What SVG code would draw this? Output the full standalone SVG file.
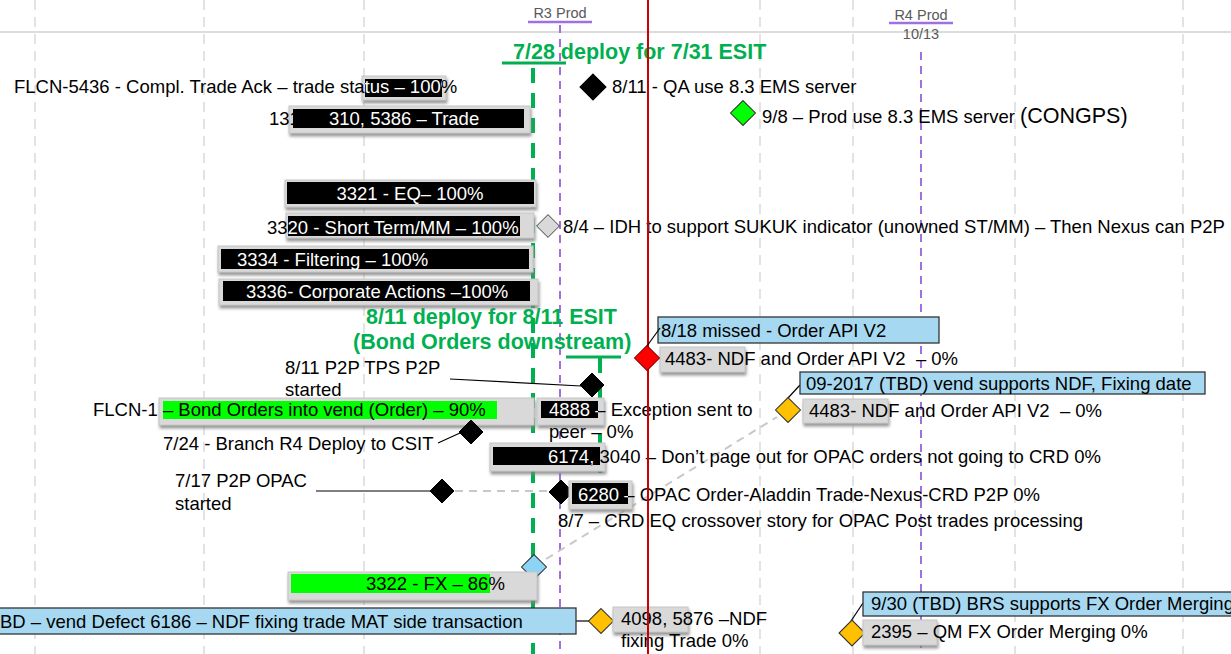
<svg xmlns="http://www.w3.org/2000/svg" width="1231" height="654" viewBox="0 0 1231 654">
<defs>
<style>
.t{font-family:"Liberation Sans",Arial,sans-serif;font-size:18.5px;fill:#000}
.w{fill:#fff}
.hd{font-family:"Liberation Sans",Arial,sans-serif;font-size:14.5px;fill:#595959}
.dep{font-family:"Liberation Sans",Arial,sans-serif;font-size:21.5px;font-weight:bold;fill:#00b050}
.grid{stroke:#e3e3e3;stroke-width:2;stroke-dasharray:10 7;fill:none}
.pur{stroke:#a070e0;stroke-width:2;stroke-dasharray:8 6;fill:none}
.pus{stroke:#a070e0;stroke-width:2.5;fill:none}
.grl{stroke:#00b050;stroke-width:4;stroke-dasharray:15 10;fill:none}
.grs{stroke:#00b050;stroke-width:3;fill:none}
.face{fill:#d9d9d9;stroke:#c6c6c6;stroke-width:1;filter:url(#sh)}
.blk{fill:#000}
.gr{fill:#00ff00}
.call{fill:#a6d9f1;stroke:#333;stroke-width:1.3}
.lead{stroke:#000;stroke-width:1.2;fill:none}
.gd{stroke:#c8c8c8;stroke-width:2;stroke-dasharray:8 6;fill:none}
.dk{fill:#000;stroke:#000;stroke-width:1}
.dor{fill:#ffc000;stroke:#333;stroke-width:1}
.dgy{fill:#d9d9d9;stroke:#333;stroke-width:1}
.dgn{fill:#00ff00;stroke:#333;stroke-width:1}
.dbl{fill:#8dd3f5;stroke:#333;stroke-width:1}
.drd{fill:#ff0000;stroke:#8b0000;stroke-width:1}
</style>
<filter id="sh" x="-10%" y="-30%" width="120%" height="180%">
<feDropShadow dx="1" dy="3" stdDeviation="1.5" flood-color="#7f7f7f" flood-opacity="0.8"/>
</filter>
<polygon id="dm" points="0,-12 12,0 0,12 -12,0"/>
<clipPath id="c1"><rect x="365" y="79" width="77" height="18"/></clipPath>
<clipPath id="c4"><rect x="288" y="216" width="232" height="20"/></clipPath>
<clipPath id="c4888"><rect x="541" y="401" width="57" height="17"/></clipPath>
<clipPath id="c6174"><rect x="493" y="447" width="107" height="18"/></clipPath>
<clipPath id="c6280"><rect x="572" y="483" width="56" height="21"/></clipPath>
</defs>
<rect x="0" y="0" width="1231" height="654" fill="#fff"/>

<g id="grid">
<line class="grid" x1="35" y1="0" x2="35" y2="654"/>
<line class="grid" x1="204" y1="0" x2="204" y2="654"/>
<line class="grid" x1="364" y1="0" x2="364" y2="654"/>
<line class="grid" x1="760" y1="0" x2="760" y2="654"/>
<line class="grid" x1="853" y1="0" x2="853" y2="654"/>
<line class="grid" x1="1015" y1="0" x2="1015" y2="654"/>
<line class="grid" x1="1183" y1="0" x2="1183" y2="654"/>
<line x1="0" y1="32" x2="1231" y2="32" stroke="#dcdcdc" stroke-width="2"/>
</g>

<g id="milestones">
<text class="hd" x="560" y="18" text-anchor="middle">R3 Prod</text>
<line class="pus" x1="528" y1="22" x2="592" y2="22"/>
<line class="pur" x1="560" y1="25" x2="560" y2="654"/>
<text class="hd" x="921" y="20" text-anchor="middle">R4 Prod</text>
<line class="pus" x1="889" y1="23" x2="953" y2="23"/>
<text class="hd" x="921" y="39" text-anchor="middle">10/13</text>
<line class="pur" x1="921" y1="52" x2="921" y2="654"/>
<line class="grl" x1="533" y1="68" x2="533" y2="654"/>
<line class="grs" x1="502" y1="63" x2="566" y2="63"/>
<text class="dep" x="513" y="59">7/28 deploy for 7/31 ESIT</text>
<line class="grl" x1="600" y1="358" x2="600" y2="482"/>
<line class="grs" x1="566" y1="357" x2="621" y2="357"/>
<text class="dep" x="366" y="324">8/11 deploy for 8/11 ESIT</text>
<text class="dep" x="353" y="349">(Bond Orders downstream)</text>
</g>

<g id="connectors">
<line class="lead" x1="450" y1="379" x2="581" y2="386"/>
<line class="lead" x1="438" y1="443" x2="460" y2="433"/>
<line class="lead" x1="316" y1="491" x2="431" y2="491"/>
<line class="gd" x1="455" y1="491" x2="549" y2="491"/>
<line class="gd" x1="546" y1="559" x2="777" y2="417"/>
<line class="lead" x1="800" y1="385" x2="788" y2="398"/>
<line class="lead" x1="576" y1="621" x2="589" y2="621"/>
<line class="lead" x1="863" y1="603" x2="851" y2="621"/>
</g>

<g id="n-flcn5436">
<rect class="face" x="362" y="76" width="84" height="24"/>
<rect class="blk" x="365" y="79" width="77" height="18"/>
<text class="t" x="14" y="93">FLCN-5436 - Compl. Trade Ack – trade status – 100%</text>
<text class="t w" x="14" y="93" clip-path="url(#c1)">FLCN-5436 - Compl. Trade Ack – trade status – 100%</text>
</g>

<g id="n-1310">
<rect class="face" x="289" y="106" width="241" height="27"/>
<rect class="blk" x="293" y="109" width="231" height="19"/>
<text class="t" x="269" y="125">131</text>
<text class="t w" x="329" y="125">310, 5386 – Trade</text>
</g>

<g id="n-qa">
<use href="#dm" class="dk" transform="translate(593,87) scale(1.08)"/>
<text class="t" x="612" y="93">8/11 - QA use 8.3 EMS server</text>
</g>

<g id="n-prod">
<use href="#dm" class="dgn" transform="translate(743,113) scale(1.04)"/>
<text class="t" x="762" y="123">9/8 – Prod use 8.3 EMS server <tspan font-size="21.5">(CONGPS)</tspan></text>
</g>

<g id="n-3321">
<rect class="face" x="285" y="180" width="251" height="27"/>
<rect class="blk" x="287" y="182" width="247" height="22"/>
<text class="t w" x="410" y="200" text-anchor="middle">3321 - EQ– 100%</text>
</g>

<g id="n-3320">
<rect class="face" x="286" y="213" width="248" height="25"/>
<rect class="blk" x="288" y="216" width="232" height="20"/>
<text class="t" x="267" y="234">3320 - Short Term/MM – 100%</text>
<text class="t w" x="267" y="234" clip-path="url(#c4)">3320 - Short Term/MM – 100%</text>
</g>

<g id="n-idh">
<use href="#dm" class="dgy" transform="translate(548,226) scale(0.95)"/>
<text class="t" x="563" y="233">8/4 – IDH to support SUKUK indicator (unowned ST/MM) – Then Nexus can P2P</text>
</g>

<g id="n-3334">
<rect class="face" x="218" y="246" width="315" height="26"/>
<rect class="blk" x="221" y="249" width="308" height="20"/>
<text class="t w" x="237" y="266">3334 - Filtering – 100%</text>
</g>

<g id="n-3336">
<rect class="face" x="219" y="279" width="319" height="26"/>
<rect class="blk" x="223" y="281" width="307" height="20"/>
<text class="t w" x="246" y="298">3336- Corporate Actions –100%</text>
</g>

<g id="n-4483a">
<rect class="face" x="660" y="347" width="85" height="25"/>
<text class="t" x="665" y="365">4483- NDF and Order API V2 &#160;– 0%</text>
</g>

<g id="n-tps">
<use href="#dm" class="dk" transform="translate(592,385)"/>
<text class="t" x="285" y="374">8/11 P2P TPS P2P</text>
<text class="t" x="285" y="396">started</text>
</g>

<g id="n-flcn1">
<rect class="face" x="159" y="398" width="375" height="27"/>
<rect class="gr" x="163" y="401" width="334" height="18"/>
<text class="t" x="93" y="416">FLCN-1 – Bond Orders into vend (Order) – 90%</text>
</g>

<g id="n-4888">
<rect class="face" x="537" y="398" width="67" height="27"/>
<rect class="blk" x="541" y="401" width="57" height="17"/>
<text class="t" x="549" y="416">4888 – Exception sent to</text>
<text class="t w" x="549" y="416" clip-path="url(#c4888)">4888 – Exception sent to</text>
<text class="t" x="549" y="438">peer – 0%</text>
</g>

<g id="n-branch">
<use href="#dm" class="dk" transform="translate(471,432)"/>
<text class="t" x="163" y="450">7/24 - Branch R4 Deploy to CSIT</text>
</g>

<g id="n-6174">
<rect class="face" x="490" y="443" width="115" height="28"/>
<rect class="blk" x="493" y="447" width="107" height="18"/>
<text class="t" x="548" y="463">6174, 3040 – Don’t page out for OPAC orders not going to CRD 0%</text>
<text class="t w" x="548" y="463" clip-path="url(#c6174)">6174, 3040 – Don’t page out for OPAC orders not going to CRD 0%</text>
</g>

<g id="n-opac">
<use href="#dm" class="dk" transform="translate(442,491)"/>
<text class="t" x="175" y="487">7/17 P2P OPAC</text>
<text class="t" x="175" y="510">started</text>
</g>

<g id="n-6280">
<use href="#dm" class="dk" transform="translate(561,492)"/>
<rect class="face" x="569" y="481" width="63" height="28"/>
<rect class="blk" x="572" y="483" width="56" height="21"/>
<text class="t" x="578" y="501">6280 – OPAC Order-Aladdin Trade-Nexus-CRD P2P 0%</text>
<text class="t w" x="578" y="501" clip-path="url(#c6280)">6280 – OPAC Order-Aladdin Trade-Nexus-CRD P2P 0%</text>
<text class="t" x="558" y="527">8/7 – CRD EQ crossover story for OPAC Post trades processing</text>
</g>

<g id="n-ndf">
<use href="#dm" class="dor" transform="translate(788,410) scale(1.04)"/>
<rect class="call" x="800" y="372" width="405" height="22"/>
<text class="t" x="806" y="390">09-2017 (TBD) vend supports NDF, Fixing date</text>
<rect class="face" x="803" y="399" width="85" height="24"/>
<text class="t" x="809" y="417">4483- NDF and Order API V2 &#160;– 0%</text>
</g>

<g id="n-fx-diamond">
<use href="#dm" class="dbl" transform="translate(534,567) scale(1.04)"/>
</g>

<g id="n-3322">
<rect class="face" x="288" y="572" width="249" height="28"/>
<rect class="gr" x="291" y="574" width="199" height="19"/>
<text class="t" x="366" y="590">3322 - FX – 86%</text>
</g>

<g id="n-defect">
<rect class="call" x="-2" y="608" width="578" height="26"/>
<text class="t" x="0" y="628" font-size="18.1">BD – vend Defect 6186 – NDF fixing trade MAT side transaction</text>
</g>

<g id="n-4098">
<use href="#dm" class="dor" transform="translate(601,621) scale(1.04)"/>
<rect class="face" x="613" y="607" width="75" height="25"/>
<text class="t" x="621" y="625">4098, 5876 –NDF</text>
<text class="t" x="621" y="647">fixing Trade 0%</text>
</g>

<g id="n-2395">
<rect class="call" x="863" y="592" width="380" height="24"/>
<text class="t" x="871" y="610">9/30 (TBD) BRS supports FX Order Merging</text>
<use href="#dm" class="dor" transform="translate(852,633) scale(1.08)"/>
<rect class="face" x="863" y="620" width="74" height="25"/>
<text class="t" x="871" y="638">2395 – QM FX Order Merging 0%</text>
</g>

<g id="today">
<line x1="648" y1="0" x2="648" y2="654" stroke="#cc0000" stroke-width="2"/>
</g>

<g id="n-missed">
<rect class="call" x="658" y="317" width="281" height="26"/>
<text class="t" x="661" y="337">8/18 missed - Order API V2</text>
<line class="lead" x1="660" y1="328" x2="647" y2="346"/>
<use href="#dm" class="drd" transform="translate(647,358) scale(1.04)"/>
</g>
</svg>
